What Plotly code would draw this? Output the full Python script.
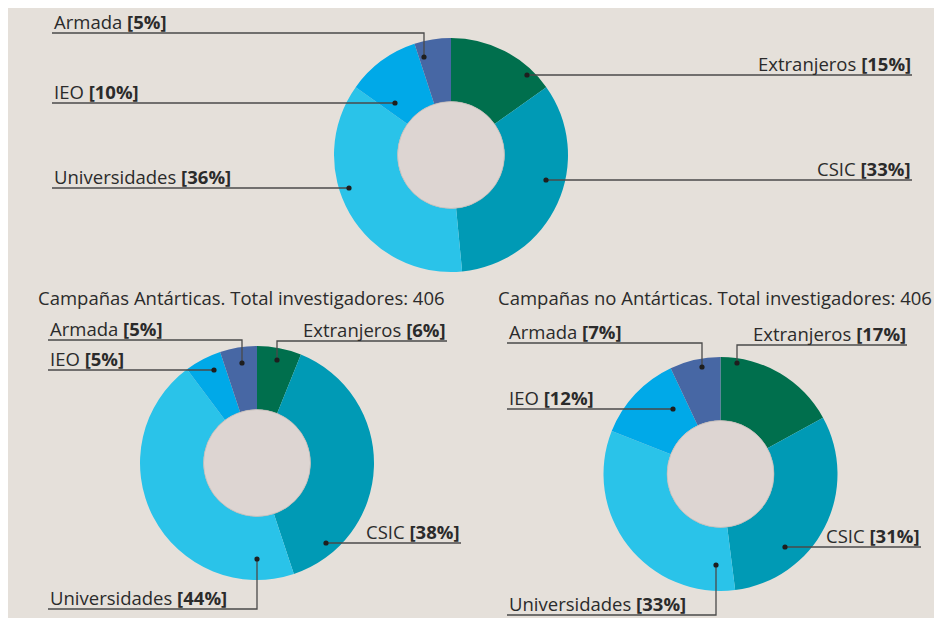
import plotly.graph_objects as go

# figure is placed by the page at an 8px body margin
OX, OY = 8, 8
W, H = 934, 610

categories = ["Extranjeros", "CSIC", "Universidades", "IEO", "Armada"]
total_values = [15, 33, 36, 10, 5]
antarctic_values = [6, 38, 44, 5, 5]
non_antarctic_values = [17, 31, 33, 12, 7]
titles = ["", "Campañas Antárticas. Total investigadores: 406",
          "Campañas no Antárticas. Total investigadores: 406"]

colors = ["#006f4d", "#009ab5", "#2ac3e9", "#00a9e8", "#4767a4"]
BG = "#e5e0da"
HOLE_FILL = "#ddd5d2"
LINE = "#4a4a4a"
TXT = "#2b2b2b"
FONT = "Open Sans"
FS = 18.5

def px(x):
    return (x - OX) / W

def py(y):
    return 1 - (y - OY) / H

# pie geometry (screen pixels): center x, center y, outer radius, hole radius
pies = [
    dict(values=total_values, cx=451, cy=155, r=117, hr=53.5),
    dict(values=antarctic_values, cx=257, cy=463, r=117, hr=53.5),
    dict(values=non_antarctic_values, cx=720.5, cy=474, r=117, hr=53.5),
]

# label layout per pie: side, text edge x, underline y, dot x, dot y
label_layout = [
    {"Armada": ("L", 52, 33, 424, 57), "IEO": ("L", 52, 103, 395, 103),
     "Universidades": ("L", 52, 188, 349, 188),
     "Extranjeros": ("R", 912, 75, 527, 75), "CSIC": ("R", 912, 180, 546, 180)},
    {"Armada": ("L", 48, 340, 242, 363), "IEO": ("L", 48, 370, 214, 370),
     "Universidades": ("L", 48, 609, 257, 559),
     "Extranjeros": ("R", 447, 341, 277, 360), "CSIC": ("R", 461, 543, 326, 543)},
    {"Armada": ("L", 507, 343, 702, 367), "IEO": ("L", 507, 409, 673, 409),
     "Universidades": ("L", 507, 615, 716, 565),
     "Extranjeros": ("R", 907, 345, 737, 363), "CSIC": ("R", 921, 547, 785, 547)},
]
title_pos = [None, (37, 297), (497, 297)]

fig = go.Figure()
shapes = []
annotations = []

for i, p in enumerate(pies):
    cx, cy, r = p["cx"], p["cy"], p["r"]
    fig.add_trace(go.Pie(
        labels=categories, values=p["values"], sort=False, direction="clockwise",
        rotation=0, hole=p["hr"] / r, textinfo="none", hoverinfo="label+percent",
        marker=dict(colors=colors, line=dict(width=0)),
        domain=dict(x=[px(cx - r), px(cx + r)], y=[py(cy + r), py(cy - r)]),
        showlegend=False,
    ))
    hr = p["hr"]
    shapes.append(dict(type="circle", xref="paper", yref="paper",
                       x0=px(cx - hr), x1=px(cx + hr), y0=py(cy + hr), y1=py(cy - hr),
                       fillcolor=HOLE_FILL, line=dict(color="#b9b1ae", width=0.6)))
    for cat, val in zip(categories, p["values"]):
        side, tx, ly, dx, dy = label_layout[i][cat]
        shapes.append(dict(type="path", xref="paper", yref="paper",
                           path=f"M {px(tx)} {py(ly)} L {px(dx)} {py(ly)} L {px(dx)} {py(dy)}",
                           line=dict(color=LINE, width=1.3)))
        shapes.append(dict(type="circle", xref="paper", yref="paper",
                           xsizemode="pixel", ysizemode="pixel",
                           xanchor=px(dx), yanchor=py(dy), x0=-2.6, x1=2.6, y0=-2.6, y1=2.6,
                           fillcolor="#1e1e1e", line=dict(width=0)))
        annotations.append(dict(
            xref="paper", yref="paper",
            x=px(tx + (0 if side == "L" else 1)), y=py(ly + 3),
            xanchor="left" if side == "L" else "right", yanchor="bottom",
            text=f"{cat} <b>[{val}%]</b>", showarrow=False,
            font=dict(family=FONT, size=FS, color=TXT)))
    if title_pos[i]:
        tx, ty = title_pos[i]
        annotations.append(dict(xref="paper", yref="paper", x=px(tx - 1), y=py(ty),
                                xanchor="left", yanchor="middle", text=titles[i],
                                showarrow=False, font=dict(family=FONT, size=FS, color=TXT)))

fig.update_layout(width=W, height=H, margin=dict(l=0, r=0, t=0, b=0),
                  paper_bgcolor=BG, plot_bgcolor=BG,
                  shapes=shapes, annotations=annotations)
fig.write_html("out.html")
